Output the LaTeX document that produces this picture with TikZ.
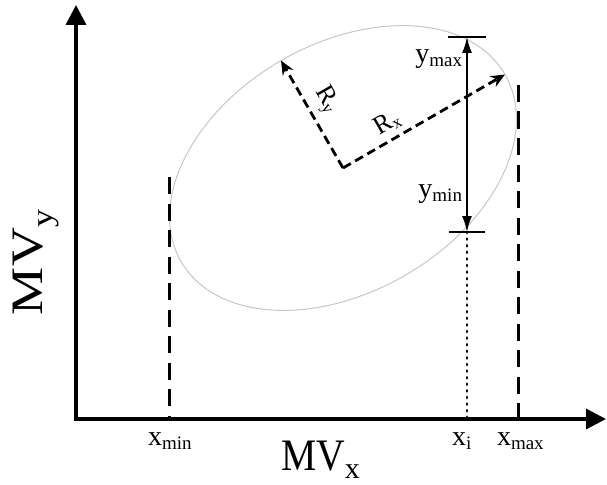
\documentclass[tikz,border=0pt]{standalone}
\usepackage{fontspec}
\setmainfont{Liberation Serif}
\usetikzlibrary{arrows.meta,calc}
\newcommand{\mylab}[2]{{\fontsize{28}{30}\selectfont #1}\raisebox{-4pt}{\fontsize{19}{21}\selectfont #2}}
\newcommand{\rlab}[2]{{\fontsize{26}{28}\selectfont #1}\raisebox{-3pt}{\fontsize{17}{19}\selectfont #2}}
\begin{document}
\begin{tikzpicture}[x=1pt,y=-1pt,
  axisline/.style={line width=3.3pt,{Triangle[length=20pt,width=20pt]}-{Triangle[length=20pt,width=20pt]}},
  boundline/.style={line width=3pt,dash pattern=on 17pt off 9.5pt},
  radline/.style={line width=2.8pt,dash pattern=on 9pt off 5pt,-{Stealth[length=14pt,width=12pt]}},
  dotline/.style={line width=2.8pt,line cap=round,dash pattern=on 1pt off 5.6pt},
  spanarrow/.style={line width=1.8pt,{Latex[length=16pt,width=10pt]}-{Latex[length=16pt,width=10pt]}},
  barline/.style={line width=2.5pt},
  ellline/.style={draw=black!22,line width=1pt},
  lbl/.style={inner sep=0pt,outer sep=0pt}]
\useasboundingbox (0,0) rectangle (607,484);
% axes
\coordinate (o) at (76,419);
\coordinate (ytip) at (76,5);
\coordinate (xtip) at (606,419);
\draw[axisline] (ytip) -- (o) -- (xtip);
% ellipse
\coordinate (c) at (343,168);
\draw[ellline,rotate around={30:(c)}] (c) ellipse [x radius=187pt,y radius=124pt];
\coordinate (rx) at ($(c)+(30:187pt)$);
\coordinate (ry) at ($(c)+(120:124pt)$);
\draw[radline] (c) -- (rx);
\draw[radline] (c) -- (ry);
% bounds
\coordinate (xmintop) at (169,177);
\coordinate (xminbot) at (169,419);
\coordinate (xmaxtop) at (518,85);
\coordinate (xmaxbot) at (518,419);
\draw[boundline] (xmintop) -- (xminbot);
\draw[boundline] (xmaxtop) -- (xmaxbot);
% xi
\coordinate (ymaxpt) at (467,37);
\coordinate (yminpt) at (467,232);
\coordinate (xibot) at (467,419);
\draw[dotline] (yminpt) -- (xibot);
\draw[spanarrow] (ymaxpt) -- (yminpt);
\draw[barline] ($(ymaxpt)+(-19,0)$) -- ($(ymaxpt)+(19,0)$);
\draw[barline] ($(yminpt)+(-18,0)$) -- ($(yminpt)+(18,0)$);
% labels
\node[lbl,anchor=base west] (lxmin) at (148,445) {\mylab{x}{min}};
\node[lbl,anchor=base west] (lxi) at (452,445) {\mylab{x}{i}};
\node[lbl,anchor=base west] (lxmax) at (497,445) {\mylab{x}{max}};
\node[lbl,anchor=base east] (lymax) at (462,63) {\mylab{y}{max}};
\node[lbl,anchor=base east] (lymin) at (462,197) {\mylab{y}{min}};
\node[lbl,rotate=30] (lrx) at (387,123) {\rlab{R}{x}};
\node[lbl,rotate=-60] (lry) at (326,100) {\rlab{R}{y}};
\node[lbl,anchor=base west] (mvx) at (281,470) {\scalebox{0.88}[1]{\fontsize{45}{47}\selectfont MV}\raisebox{-8pt}{\fontsize{30}{32}\selectfont x}};
\node[lbl,anchor=base west,rotate=90] (mvy) at (42,315) {\scalebox{1.2}[1]{\fontsize{45}{47}\selectfont MV\raisebox{-10pt}{\fontsize{30}{32}\selectfont y}}};
\end{tikzpicture}
\end{document}
